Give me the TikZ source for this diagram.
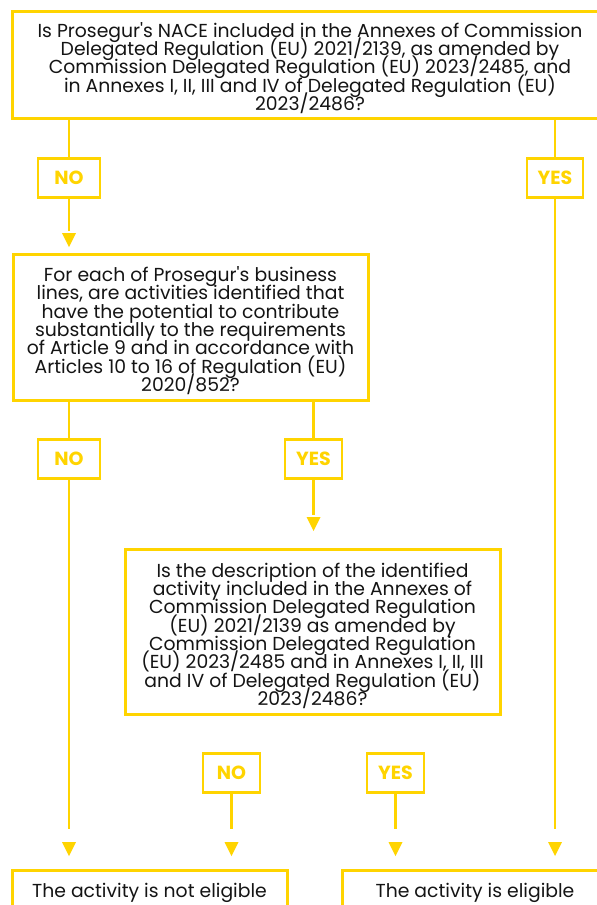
\documentclass[tikz,border=0pt]{standalone}
\usepackage{fontspec}
\setmainfont{Poppins}
\definecolor{gold}{RGB}{255,212,0}
\definecolor{ink}{RGB}{20,20,20}
\newcommand{\apos}{\textquotesingle}
\newcommand{\tightlines}{\lineskiplimit=-100pt\relax\lineskip=0pt\relax}
\newcommand{\pushdown}{\rule{0pt}{22pt}}
\begin{document}
\begin{tikzpicture}[x=1pt,y=-1pt,
  box/.style={draw=gold, line width=3pt, align=center, inner sep=0pt, text=ink,
    font=\fontsize{18.8}{18.3}\selectfont\tightlines},
  lbl/.style={draw=gold, line width=2.4pt, text=gold, inner sep=0pt, minimum height=39pt,
    font=\fontsize{19}{20}\selectfont\bfseries},
  conn/.style={draw=gold, line width=2.5pt},
  tipfill/.style={fill=gold}
]
\useasboundingbox (0,0) rectangle (597,905);
\clip (0,0) rectangle (597,905);

% main boxes
\node[box, minimum width=596pt, minimum height=107pt] (q1) at (310,64.5)
  {\pushdown Is Prosegur\apos s NACE included in the Annexes of Commission\\
   Delegated Regulation (EU) 2021/2139, as amended by\\
   Commission Delegated Regulation (EU) 2023/2485, and\\
   in Annexes I, II, III and IV of Delegated Regulation (EU)\\
   2023/2486?};
\node[box, minimum width=355pt, minimum height=146pt] (q2) at (190.5,327)
  {\pushdown For each of Prosegur\apos s business\\
   lines, are activities identified that\\
   have the potential to contribute\\
   substantially to the requirements\\
   of Article 9 and in accordance with\\
   Articles 10 to 16 of Regulation (EU)\\
   2020/852?};
\node[box, minimum width=375pt, minimum height=165pt] (q3) at (312.5,632)
  {\pushdown Is the description of the identified\\
   activity included in the Annexes of\\
   Commission Delegated Regulation\\
   (EU) 2021/2139 as amended by\\
   Commission Delegated Regulation\\
   (EU) 2023/2485 and in Annexes I, II, III\\
   and IV of Delegated Regulation (EU)\\
   2023/2486?};
\node[box, minimum width=275pt, minimum height=40pt] (notel) at (149.5,890)
  {\rule{0pt}{20pt}The activity is not eligible};
\node[box, minimum width=266pt, minimum height=40pt] (el) at (475,890)
  {\rule{0pt}{20pt}The activity is eligible};

% labels
\node[lbl, minimum width=62pt] (no1) at (69,178) {NO};
\node[lbl, minimum width=56pt] (yes1) at (555,178) {YES};
\node[lbl, minimum width=62pt] (no2) at (69,459) {NO};
\node[lbl, minimum width=57pt] (yes2) at (313.5,459) {YES};
\node[lbl, minimum width=57pt] (no3) at (231.5,773) {NO};
\node[lbl, minimum width=57pt] (yes3) at (395.5,773) {YES};

% connector free ends and arrow tips
\coordinate (e1) at (69,231);    \coordinate (t1) at (69,247);
\coordinate (e2) at (313.5,515); \coordinate (t2) at (313.5,531);
\coordinate (e3) at (69,829);    \coordinate (t3) at (69,856);
\coordinate (e4) at (231.5,829); \coordinate (t4) at (231.5,856);
\coordinate (e5) at (395.5,829); \coordinate (t5) at (395.5,856);
\coordinate (e6) at (555,829);   \coordinate (t6) at (555,856);

% connectors
\draw[conn] (q1.south -| no1) -- (no1.north);
\draw[conn] (q1.south -| yes1) -- (yes1.north);
\draw[conn] (no1.south) -- (e1);
\draw[conn] (yes1.south) -- (e6);
\draw[conn] (q2.south -| no2) -- (no2.north);
\draw[conn] (q2.south -| yes2) -- (yes2.north);
\draw[conn] (yes2.south) -- (e2);
\draw[conn] (no2.south) -- (e3);
\draw[conn] (no3.south) -- (e4);
\draw[conn] (yes3.south) -- (e5);

% arrow tips
\foreach \t in {t1,t2,t3,t4,t5,t6}
  \fill[tipfill] (\t) -- ++(-7,-14) -- ++(14,0) -- cycle;
\end{tikzpicture}
\end{document}
